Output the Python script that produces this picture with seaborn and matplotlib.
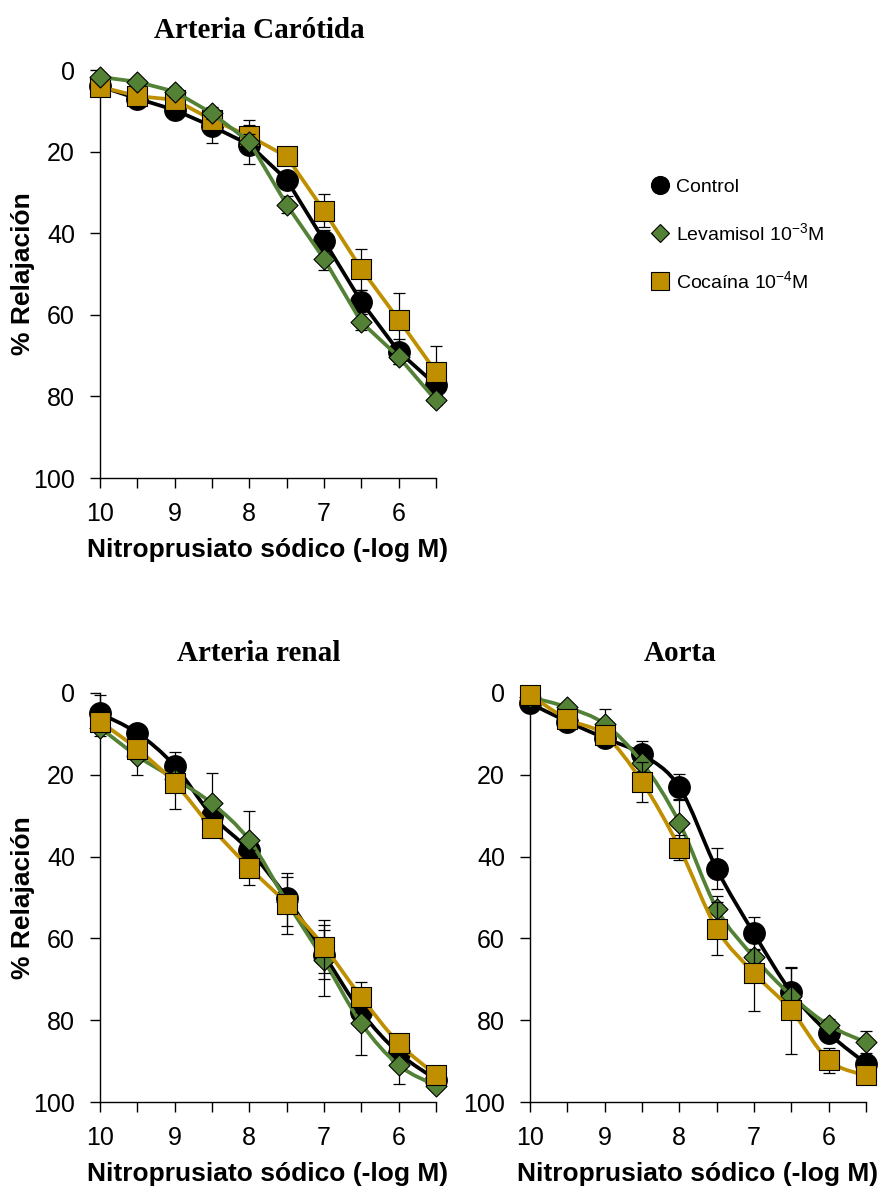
import numpy as np
import pandas as pd
import matplotlib
matplotlib.use("Agg")
import matplotlib.pyplot as plt
import seaborn as sns
from matplotlib.path import Path
from matplotlib.patches import PathPatch
from matplotlib.lines import Line2D

# Concentrations of sodium nitroprusside (-log M)
conc = [10, 9.5, 9, 8.5, 8, 7.5, 7, 6.5, 6, 5.5]
x_tick_labels = ["10", "", "9", "", "8", "", "7", "", "6", ""]
y_ticks = [0, 20, 40, 60, 80, 100]

# Arteria Carótida: % relaxation (mean) and SEM
car_control = [4, 7, 9.8, 13.8, 18.3, 26.9, 41.8, 56.8, 69, 77.2]
car_control_sem = [1, 1.5, 2.2, 4.2, 4.7, 2, 2.5, 3, 3, 2.5]
car_levamisol = [1.7, 2.9, 5.3, 10.6, 17.6, 33, 46.3, 61.8, 70.3, 81]
car_levamisol_sem = [0.5, 0.8, 1.2, 1.5, 2, 2, 2.7, 2, 1.8, 1]
car_cocaina = [4.1, 6.4, 7.3, 12.2, 16.2, 21.2, 34.5, 48.8, 61.2, 74]
car_cocaina_sem = [1, 1.5, 1.5, 2, 4, 2, 4.1, 5, 6.5, 6.3]

# Arteria renal
ren_control = [5, 9.8, 17.8, 30, 38.5, 50, 64, 78, 88, 94.5]
ren_control_sem = [4.5, 2, 3.4, 3, 3, 2, 6, 2, 2, 1.5]
ren_levamisol = [8.5, 15.4, 21, 27, 36, 51, 65.4, 80.8, 91, 96]
ren_levamisol_sem = [2, 4.6, 3, 7.5, 7.2, 6, 8.6, 7.7, 4.6, 1]
ren_cocaina = [7, 13.7, 22, 33, 42.7, 51.5, 62, 74.4, 85.6, 93.4]
ren_cocaina_sem = [1.5, 2, 6.3, 2, 4.3, 7.5, 6.5, 3.7, 2, 1.5]

# Aorta
aor_control = [2.5, 7, 11, 15, 23, 43, 58.8, 73.2, 83.2, 90.6]
aor_control_sem = [1, 1, 1.5, 3.3, 3.2, 5, 4.1, 6, 2, 2]
aor_levamisol = [1, 3.5, 7.6, 17, 31.7, 52.7, 64.6, 74, 81.2, 85.4]
aor_levamisol_sem = [0.5, 1, 3.6, 2, 5.7, 3, 2, 2, 1.5, 2.7]
aor_cocaina = [0.5, 6.4, 10.3, 21.7, 37.8, 57.6, 68.5, 77.6, 89.8, 93.5]
aor_cocaina_sem = [0.5, 1.5, 1.5, 4.9, 3, 6.4, 9.3, 10.7, 3, 1.5]

titles = ["Arteria Carótida", "Arteria renal", "Aorta"]
series_labels = ["Control", r"Levamisol 10$^{\mathregular{-3}}$M", r"Cocaína 10$^{\mathregular{-4}}$M"]
x_label = "Nitroprusiato sódico (-log M)"
y_label = "% Relajación"

sns.set_theme(style="ticks")
plt.rcParams["font.family"] = ["Liberation Sans", "DejaVu Sans"]
plt.rcParams["mathtext.fontset"] = "custom"
plt.rcParams["mathtext.rm"] = "Liberation Sans"
plt.rcParams["mathtext.it"] = "Liberation Sans:italic"
plt.rcParams["mathtext.bf"] = "Liberation Sans:bold"
for key in ("text.color", "axes.labelcolor", "xtick.color", "ytick.color", "axes.edgecolor"):
    plt.rcParams[key] = "black"

GREEN = "#538135"
GOLD = "#BF8F00"
styles = {
    "control": dict(color="black", marker="o", ms=15.6),
    "levamisol": dict(color=GREEN, marker="D", ms=10.7),
    "cocaina": dict(color=GOLD, marker="s", ms=15.0),
}


def smooth_path(xs, ys):
    """Cubic Bezier path through the points (Catmull-Rom style tangents)."""
    pts = np.column_stack([xs, ys]).astype(float)
    n = len(pts)
    verts = [pts[0]]
    codes = [Path.MOVETO]
    for i in range(n - 1):
        p0 = pts[i - 1] if i > 0 else pts[i]
        p1 = pts[i]
        p2 = pts[i + 1]
        p3 = pts[i + 2] if i + 2 < n else pts[i + 1]
        c1 = p1 + (p2 - p0) / 6.0
        c2 = p2 - (p3 - p1) / 6.0
        verts += [c1, c2, p2]
        codes += [Path.CURVE4] * 3
    return Path(verts, codes)


def draw_series(ax, key, y, sem, z, smooth):
    st = styles[key]
    ax.errorbar(conc, y, yerr=sem, fmt="none", ecolor="black", elinewidth=0.9,
                capsize=4, capthick=0.9, zorder=z, clip_on=False)
    if smooth:
        ax.add_patch(PathPatch(smooth_path(conc, y), fill=False, edgecolor=st["color"],
                               lw=2.7, zorder=z + 0.1, clip_on=False, joinstyle="round"))
    else:
        sns.lineplot(x=conc, y=y, color=st["color"], lw=2.7, ax=ax, sort=False,
                     zorder=z + 0.1, clip_on=False, legend=False)
    sns.scatterplot(x=conc, y=y, marker=st["marker"], s=st["ms"] ** 2, color=st["color"],
                    edgecolor="black", linewidth=0.8, ax=ax, zorder=z + 0.2,
                    clip_on=False, legend=False)


def style_axes(ax, title, title_x):
    ax.set_xlim(10, 5.5)
    ax.set_ylim(100, 0)
    ax.set_xticks(conc)
    ax.set_xticklabels(x_tick_labels)
    ax.set_yticks(y_ticks)
    ax.set_yticklabels([str(v) for v in y_ticks])
    ax.tick_params(axis="both", direction="out", length=7, width=1, colors="black",
                   labelsize=18, bottom=True, left=True)
    ax.tick_params(axis="x", pad=10)
    ax.tick_params(axis="y", pad=11)
    for side in ("top", "right"):
        ax.spines[side].set_visible(False)
    for side in ("left", "bottom"):
        ax.spines[side].set_color("black")
        ax.spines[side].set_linewidth(1)
    ax.set_xlabel(x_label, fontsize=19, fontweight="bold", labelpad=9)
    ax.set_title(title, fontfamily="Liberation Serif", fontweight="bold", fontsize=21,
                 x=title_x, pad=23)
    ax.patch.set_alpha(0)


fig = plt.figure(figsize=(8.79, 11.92), dpi=100)
W, H = 879, 1192
ax_car = fig.add_axes([100 / W, 1 - 478 / H, 336 / W, 408 / H])
ax_ren = fig.add_axes([100 / W, 1 - 1102 / H, 336 / W, 409 / H])
ax_aor = fig.add_axes([530 / W, 1 - 1102 / H, 336 / W, 409 / H])

# Carotid: straight segments; levamisol drawn on top
draw_series(ax_car, "control", car_control, car_control_sem, 3, False)
draw_series(ax_car, "cocaina", car_cocaina, car_cocaina_sem, 4, False)
draw_series(ax_car, "levamisol", car_levamisol, car_levamisol_sem, 5, False)

# Renal and aorta: smoothed curves; cocaine drawn on top
draw_series(ax_ren, "control", ren_control, ren_control_sem, 3, True)
draw_series(ax_ren, "levamisol", ren_levamisol, ren_levamisol_sem, 4, True)
draw_series(ax_ren, "cocaina", ren_cocaina, ren_cocaina_sem, 5, True)

draw_series(ax_aor, "control", aor_control, aor_control_sem, 3, True)
draw_series(ax_aor, "levamisol", aor_levamisol, aor_levamisol_sem, 4, True)
draw_series(ax_aor, "cocaina", aor_cocaina, aor_cocaina_sem, 5, True)

style_axes(ax_car, titles[0], 0.473)
style_axes(ax_ren, titles[1], 0.473)
style_axes(ax_aor, titles[2], 0.446)
for ax in (ax_car, ax_ren):
    ax.set_ylabel(y_label, fontsize=19, fontweight="bold")
    ax.yaxis.set_label_coords(-0.193, 0.5)
ax_aor.set_ylabel("")

handles = [
    Line2D([], [], ls="none", marker="o", ms=13, mfc="black", mec="black", mew=0.8),
    Line2D([], [], ls="none", marker="D", ms=8.7, mfc=GREEN, mec="black", mew=0.8),
    Line2D([], [], ls="none", marker="s", ms=12.5, mfc=GOLD, mec="black", mew=0.8),
]
fig.legend(handles, series_labels, loc="upper left", bbox_to_anchor=(650 / W, 1 - 178 / H),
           frameon=False, fontsize=14, handlelength=1.0, handletextpad=0.35,
           labelspacing=1.35, borderpad=0, borderaxespad=0)

fig.savefig("out.png", dpi=100)
